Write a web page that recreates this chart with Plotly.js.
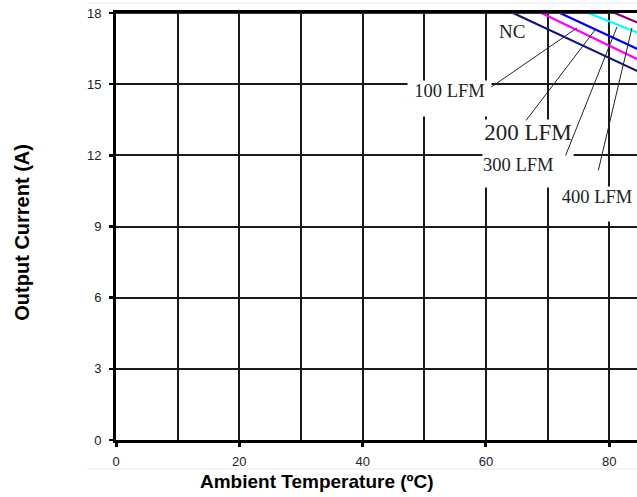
<!DOCTYPE html>
<html>
<head>
<meta charset="utf-8">
<script src="https://cdn.plot.ly/plotly-3.0.1.min.js"></script>
<style>html,body{margin:0;padding:0;background:#fff;}#chart{width:637px;height:497px;}</style>
</head>
<body>
<div id="chart"></div>
<script>
// ---- data ----
const seriesNames = ['NC', '100 LFM', '200 LFM', '300 LFM', '400 LFM'];
const seriesColors = ['#14147a', '#ff00ff', '#0000ff', '#00ffff', '#800080'];
const tempNC  = [0, 64.4, 85];   const currNC  = [18, 18, 15.5];
const temp100 = [0, 69.0, 85];   const curr100 = [18, 18, 16.0];
const temp200 = [0, 72.0, 85];   const curr200 = [18, 18, 16.43];
const temp300 = [0, 76.6, 85];   const curr300 = [18, 18, 17.13];
const temp400 = [0, 80.9, 85];   const curr400 = [18, 18, 17.55];
const xTickVals = [0, 20, 40, 60, 80];
const yTickVals = [0, 3, 6, 9, 12, 15, 18];

const temps = [tempNC, temp100, temp200, temp300, temp400];
const currs = [currNC, curr100, curr200, curr300, curr400];

const traces = seriesNames.map((n, i) => ({
  type: 'scatter', mode: 'lines', name: n,
  x: temps[i], y: currs[i],
  line: {color: seriesColors[i], width: 2.2},
  showlegend: false, hoverinfo: 'skip'
}));

const serif = 'Liberation Serif, Times New Roman, serif';
const sans = 'Liberation Sans, Arial, sans-serif';

function label(text, x, y, size, w, h, align, bg) {
  return {text: text, x: x, y: y, xref: 'x', yref: 'y', showarrow: false,
    xanchor: 'left', yanchor: 'top', width: w, height: h, align: align, valign: 'top',
    bgcolor: bg ? '#ffffff' : 'rgba(0,0,0,0)', borderpad: 0,
    font: {family: serif, size: size, color: '#222'}};
}
function leader(x0, y0, x1, y1) {
  return {text: '', x: x1, y: y1, ax: x0, ay: y0, xref: 'x', yref: 'y', axref: 'x', ayref: 'y',
    showarrow: true, arrowhead: 0, arrowwidth: 1, arrowcolor: '#222', standoff: 0, startstandoff: 0};
}

const annotations = [
  {text: 'NC', x: 64.2, y: 17.2, xref: 'x', yref: 'y', showarrow: false,
   font: {family: serif, size: 19, color: '#222'}},
  label('100 LFM', 47.2, 15.18, 18.5, 83, 35, 'center', true),
  label('200 LFM', 59.36, 13.53, 23, 90, 35, 'center', true),
  label('300 LFM', 59.36, 12.06, 18.5, 90, 32, 'left', true),
  label('400 LFM', 71.2, 10.71, 18.5, 82, 34, 'center', true),
  leader(60.65, 14.84, 74.77, 17.37),
  leader(66.33, 13.41, 77.68, 17.28),
  leader(72.82, 11.93, 81.25, 17.41),
  leader(78.17, 11.30, 83.68, 17.37),
  {text: 'Ambient Temperature (ºC)', xref: 'paper', yref: 'paper', x: 0.3858, y: -0.098,
   xanchor: 'center', yanchor: 'middle', showarrow: false,
   font: {family: sans, size: 19, color: '#000', weight: 'bold'}},
  {text: 'Output Current (A)', xref: 'paper', yref: 'paper', x: -0.180, y: 0.486,
   xanchor: 'center', yanchor: 'middle', showarrow: false, textangle: -90,
   font: {family: sans, size: 20, color: '#000', weight: 'bold'}}
];

const layout = {
  width: 637, height: 497,
  margin: {l: 116, r: 0, t: 13, b: 57, pad: 0},
  paper_bgcolor: '#ffffff', plot_bgcolor: '#ffffff',
  showlegend: false,
  xaxis: {
    range: [0, 84.5], tickvals: xTickVals, ticktext: xTickVals.map(String),
    showgrid: true, gridcolor: '#1a1a1a', gridwidth: 2,
    minor: {dtick: 10, tick0: 0, showgrid: true, gridcolor: '#1a1a1a', gridwidth: 2, ticks: ''},
    showline: true, linecolor: '#000', linewidth: 3, mirror: true,
    ticks: 'outside', ticklen: 4, tickwidth: 3, tickcolor: '#000',
    ticklabelstandoff: 3,
    zeroline: false, fixedrange: true,
    tickfont: {family: sans, size: 13, color: '#222'}
  },
  yaxis: {
    range: [0, 18], tickvals: yTickVals, ticktext: yTickVals.map(String),
    showgrid: true, gridcolor: '#1a1a1a', gridwidth: 2,
    showline: true, linecolor: '#000', linewidth: 3,
    ticks: 'outside', ticklen: 4, tickwidth: 2.5, tickcolor: '#000',
    ticklabelstandoff: 5,
    zeroline: false, fixedrange: true,
    tickfont: {family: sans, size: 13, color: '#222'}
  },
  shapes: [
    {type: 'line', xref: 'paper', yref: 'paper', x0: -0.055, x1: 1, y0: 1.0234, y1: 1.0234,
     line: {color: '#e4e8ee', width: 1}},
    {type: 'line', xref: 'paper', yref: 'paper', x0: -0.055, x1: 1, y0: -0.068, y1: -0.068,
     line: {color: '#e4e8ee', width: 1}}
  ],
  annotations: annotations
};

Plotly.newPlot('chart', traces, layout, {displayModeBar: false, staticPlot: true});
</script>
</body>
</html>
